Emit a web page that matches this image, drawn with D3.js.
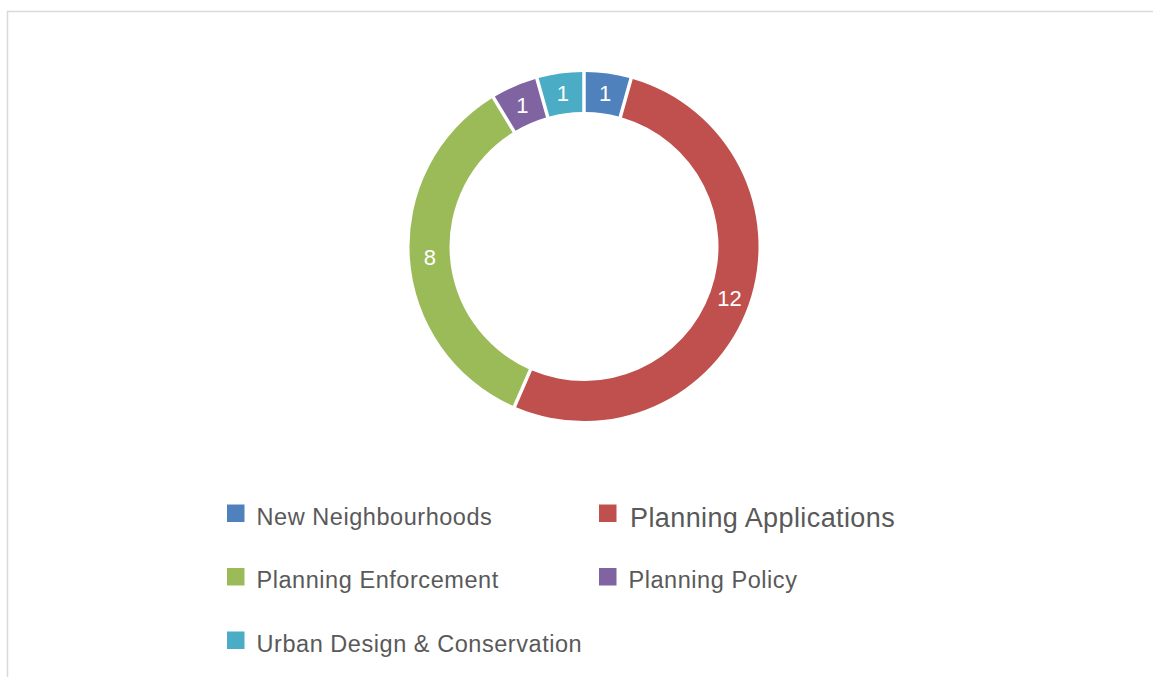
<!DOCTYPE html>
<html>
<head>
<meta charset="utf-8">
<script src="https://cdn.jsdelivr.net/npm/d3@7"></script>
<style>
  html, body { margin: 0; padding: 0; background: #fff; }
  svg { display: block; font-family: "Liberation Sans", Arial, sans-serif; }
</style>
</head>
<body>
<svg id="main-svg"></svg>
<script>
var categories = ["New Neighbourhoods", "Planning Applications", "Planning Enforcement", "Planning Policy", "Urban Design & Conservation"];
var values = [1, 12, 8, 1, 1];
var colors = ["#4f81bd", "#c0504d", "#9bbb59", "#8064a2", "#4bacc6"];

var width = 1153,
  height = 677,
  cx = 584,
  cy = 246.5,
  outerR = 174.5,
  innerR = 134.5,
  svg = d3.select("#main-svg").attr("width", width).attr("height", height);

// frame (only top and left edges visible)
svg.append("rect")
  .attr("x", 7.5).attr("y", 11.5)
  .attr("width", width + 10).attr("height", height + 10)
  .attr("fill", "none").attr("stroke", "#d9d9d9").attr("stroke-width", 1.5);

var data = categories.map(function (c, i) {
  return { name: c, value: values[i], color: colors[i] }
});

var pie = d3.pie().sort(null).value(function (d) { return d.value });
var arc = d3.arc().innerRadius(innerR).outerRadius(outerR).padAngle(3.5 / Math.sqrt(innerR * innerR + outerR * outerR));
var labelArc = d3.arc().innerRadius((innerR + outerR) / 2).outerRadius((innerR + outerR) / 2);

var g = svg.append("g").attr("transform", "translate(" + cx + " " + cy + ")");
var arcs = pie(data);

g.selectAll("path.slice").data(arcs).enter().append("path")
  .attr("class", "slice")
  .attr("d", arc)
  .attr("fill", function (d) { return d.data.color });

g.selectAll("text.lbl").data(arcs).enter().append("text")
  .attr("class", "lbl")
  .attr("transform", function (d) { return "translate(" + labelArc.centroid(d) + ")" })
  .attr("text-anchor", "middle")
  .attr("dy", "0.36em")
  .attr("fill", "#fff")
  .attr("font-size", 22)
  .text(function (d) { return d.data.value });

// legend: two columns
var colX = [227, 599],
  rowY = [504.5, 568, 631.5],
  sq = 17.5;

var leg = svg.selectAll("g.leg").data(data).enter().append("g")
  .attr("class", "leg")
  .attr("transform", function (d, i) { return "translate(" + colX[i % 2] + " " + rowY[Math.floor(i / 2)] + ")" });

leg.append("rect")
  .attr("width", sq).attr("height", sq)
  .attr("fill", function (d) { return d.color });

leg.append("text")
  .attr("x", function (d, i) { return i === 1 ? 31 : 29.5 })
  .attr("y", function (d, i) { return i === 1 ? 22.5 : 20 })
  .attr("fill", "#595959")
  .attr("font-size", function (d, i) { return i === 1 ? 27 : 23.5 })
  .attr("letter-spacing", function (d, i) { return i === 1 ? 0.4 : 0.55 })
  .text(function (d) { return d.name });
</script>
</body>
</html>
